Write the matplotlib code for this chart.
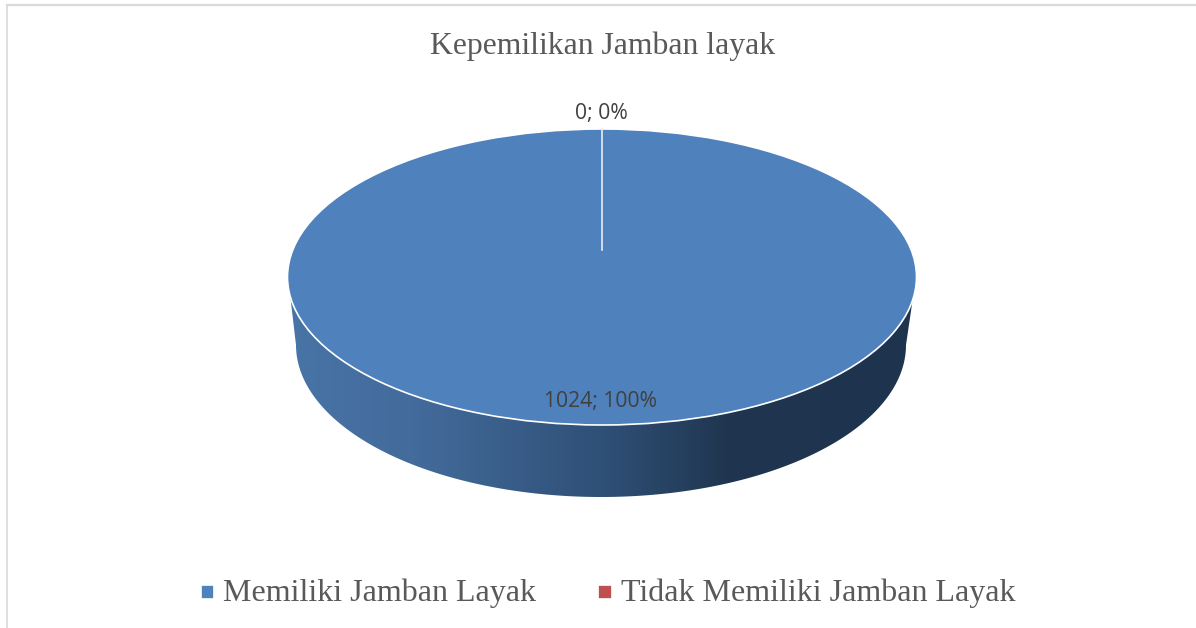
import matplotlib
matplotlib.use('Agg')
import matplotlib.pyplot as plt
from matplotlib.colors import LinearSegmentedColormap
from matplotlib.legend_handler import HandlerPatch
from matplotlib.lines import Line2D
from matplotlib.patches import Polygon, Rectangle, Wedge
import numpy as np

title = 'Kepemilikan Jamban layak'
categories = ['Memiliki Jamban Layak', 'Tidak Memiliki Jamban Layak']
values = [1024, 0]
colors = ['#4f81bd', '#c0504d']

W, H = 1196, 628

# pie ellipse in pixels
cx, cy, rx, ry = 602, 277, 314.5, 148

fig = plt.figure(figsize=(W / 100, H / 100), dpi=100, facecolor='white')
ax = fig.add_axes([0, 0, 1, 1])


def ux(px):
    return (px - cx) / rx


def uy(py):
    return (cy - py) / ry


def legend_square(legend, orig_handle, xdescent, ydescent, width, height, fontsize):
    return Rectangle((-xdescent, 1.55), width, 9.9)


# side wall of the disc, dark gradient clipped to the outline
t = np.linspace(np.pi, 0, 200)
wall_x = np.concatenate([[ux(288)], ux(601 + 305 * np.cos(t)), [ux(916)]])
wall_y = np.concatenate([[uy(277)], uy(345 + 152 * np.sin(t)), [uy(277)]])
wall = Polygon(np.column_stack([wall_x, wall_y]), closed=True, fc='none', ec='none')
ax.add_patch(wall)

wall_cmap = LinearSegmentedColormap.from_list('wall', [
    (0.0, '#4874a6'), (0.2, '#436b9b'), (0.5, '#2f5077'),
    (0.7, '#203650'), (1.0, '#1e334d')])
grad = ax.imshow(np.linspace(0, 1, 256)[None, :], cmap=wall_cmap, aspect='auto',
                 extent=[ux(288), ux(916), uy(500), uy(270)], zorder=1)
grad.set_clip_path(wall)

wedges, _ = ax.pie(values, colors=colors, startangle=90, counterclock=False,
                   radius=1, center=(0, 0), frame=True,
                   wedgeprops={'edgecolor': 'white', 'linewidth': 1.2, 'zorder': 2})
wedges[1].set_linewidth(0)

# the zero slice only shows as a thin white line
a = np.deg2rad(wedges[1].theta1)
ax.plot([np.cos(a), 0.18 * np.cos(a)], [np.sin(a), 0.18], color='#e8eef6', lw=1.2, zorder=3)

ax.set_aspect('auto')
ax.set_xlim(ux(0), ux(W))
ax.set_ylim(uy(H), uy(0))
ax.axis('off')

serif = 'Liberation Serif'
sans = 'Open Sans'

fig.text(602.5 / W, 1 - 46 / H, title, ha='center', va='center', fontsize=22.8,
         family=serif, color='#595959')

total = sum(values)
fig.text(601 / W, 1 - 114 / H, f'{values[1]}; {values[1] * 100 // total}%', ha='center', va='center',
         fontsize=15.2, family=sans, color='#404040')
fig.text(600 / W, 1 - 402 / H, f'{values[0]}; {values[0] * 100 // total}%', ha='center', va='center',
         fontsize=15.2, family=sans, color='#404040')

# legend
wedges[1].set_edgecolor('white')
wedges[1].set_linewidth(1.2)
leg = ax.legend(wedges, categories, ncol=2, loc='center', frameon=False,
                bbox_to_anchor=(608 / W, 1 - 593 / H), prop={'family': serif, 'size': 23},
                labelcolor='#595959', handlelength=0.42, handleheight=0.42,
                handletextpad=0.28, columnspacing=1.94,
                handler_map={Wedge: HandlerPatch(patch_func=legend_square)})
wedges[1].set_linewidth(0)

# chart frame from the screenshot
fig.add_artist(Line2D([7 / W, 1], [1 - 4.5 / H, 1 - 4.5 / H], color='#d9d9d9', lw=1.6))
fig.add_artist(Line2D([7 / W, 7 / W], [1 - 4.5 / H, 0], color='#d9d9d9', lw=1.2))

fig.savefig('out.png', dpi=100)
